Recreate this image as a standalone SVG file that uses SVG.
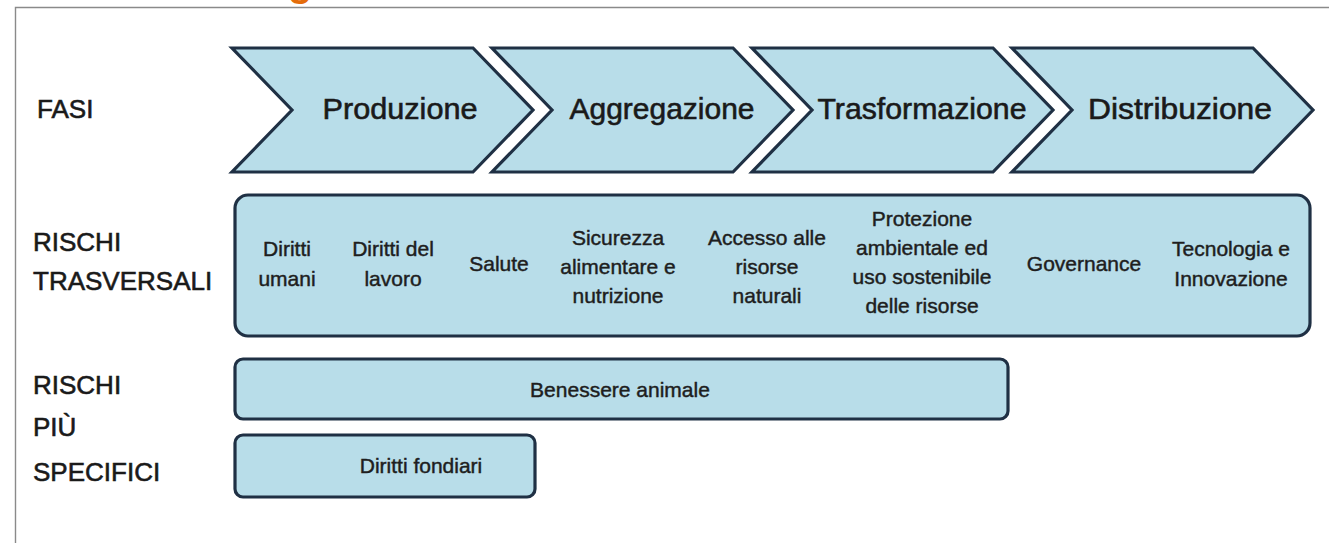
<svg xmlns="http://www.w3.org/2000/svg" width="1329" height="543" viewBox="0 0 1329 543">
<style>
.frame{fill:none;stroke:#8a8a8a;stroke-width:1.4}
.chev{fill:#b8dde9;stroke:#1f3044;stroke-width:3.2;stroke-linejoin:miter}
.box{fill:#b8dde9;stroke:#1f3044;stroke-width:3.2}
.lbl{font-family:"Liberation Sans",Arial,sans-serif;font-size:26px;fill:#1a1a1a;stroke:#1a1a1a;stroke-width:0.6}
.ph{font-family:"Liberation Sans",Arial,sans-serif;font-size:30px;fill:#1a1a1a;stroke:#1a1a1a;stroke-width:0.6;text-anchor:middle}
.rk{font-family:"Liberation Sans",Arial,sans-serif;font-size:21px;fill:#1e1e1e;stroke:#1e1e1e;stroke-width:0.45;text-anchor:middle}
.title{font-family:"Liberation Sans",Arial,sans-serif;font-size:40px;font-weight:bold;fill:#e46c0a}
</style>
<rect width="1329" height="543" fill="#ffffff"/>
<text class="title" x="288" y="-4">g</text>
<path class="frame" d="M15.5,543 L15.5,7.5 L1329,7.5"/>

<g id="labels">
<text class="lbl" x="37" y="118">FASI</text>
<text class="lbl" x="33" y="251">RISCHI</text>
<text class="lbl" x="33" y="290">TRASVERSALI</text>
<text class="lbl" x="33" y="394">RISCHI</text>
<text class="lbl" x="33" y="436">PIÙ</text>
<text class="lbl" x="33" y="481">SPECIFICI</text>
</g>

<g id="fase-produzione">
<path class="chev" d="M232,48 L473,48 L533,110 L473,172 L232,172 L292,110 Z"/>
<text class="ph" x="400" y="119" textLength="155" lengthAdjust="spacingAndGlyphs">Produzione</text>
</g>
<g id="fase-aggregazione">
<path class="chev" d="M492,48 L733,48 L793,110 L733,172 L492,172 L552,110 Z"/>
<text class="ph" x="662" y="119" textLength="185" lengthAdjust="spacingAndGlyphs">Aggregazione</text>
</g>
<g id="fase-trasformazione">
<path class="chev" d="M752,48 L993,48 L1053,110 L993,172 L752,172 L812,110 Z"/>
<text class="ph" x="922" y="119" textLength="209" lengthAdjust="spacingAndGlyphs">Trasformazione</text>
</g>
<g id="fase-distribuzione">
<path class="chev" d="M1012,48 L1253,48 L1313,110 L1253,172 L1012,172 L1072,110 Z"/>
<text class="ph" x="1180" y="119" textLength="184" lengthAdjust="spacingAndGlyphs">Distribuzione</text>
</g>

<g id="rischi-trasversali">
<rect class="box" x="235" y="195" width="1075" height="141" rx="13" ry="13"/>
<text class="rk" x="287"><tspan x="287" y="256">Diritti</tspan><tspan x="287" y="286">umani</tspan></text>
<text class="rk" x="393"><tspan x="393" y="256">Diritti del</tspan><tspan x="393" y="286">lavoro</tspan></text>
<text class="rk" x="499" y="271">Salute</text>
<text class="rk" x="618"><tspan x="618" y="245">Sicurezza</tspan><tspan x="618" y="274">alimentare e</tspan><tspan x="618" y="303">nutrizione</tspan></text>
<text class="rk" x="767"><tspan x="767" y="245">Accesso alle</tspan><tspan x="767" y="274">risorse</tspan><tspan x="767" y="303">naturali</tspan></text>
<text class="rk" x="922"><tspan x="922" y="226">Protezione</tspan><tspan x="922" y="255">ambientale ed</tspan><tspan x="922" y="284">uso sostenibile</tspan><tspan x="922" y="313">delle risorse</tspan></text>
<text class="rk" x="1084" y="271">Governance</text>
<text class="rk" x="1231"><tspan x="1231" y="256">Tecnologia e</tspan><tspan x="1231" y="286">Innovazione</tspan></text>
</g>

<g id="benessere-animale">
<rect class="box" x="235" y="359" width="773" height="60" rx="8" ry="8"/>
<text class="rk" x="620" y="397">Benessere animale</text>
</g>

<g id="diritti-fondiari">
<rect class="box" x="235" y="435" width="300" height="62" rx="8" ry="8"/>
<text class="rk" x="421" y="473">Diritti fondiari</text>
</g>

<g id="connectors"></g>
</svg>
